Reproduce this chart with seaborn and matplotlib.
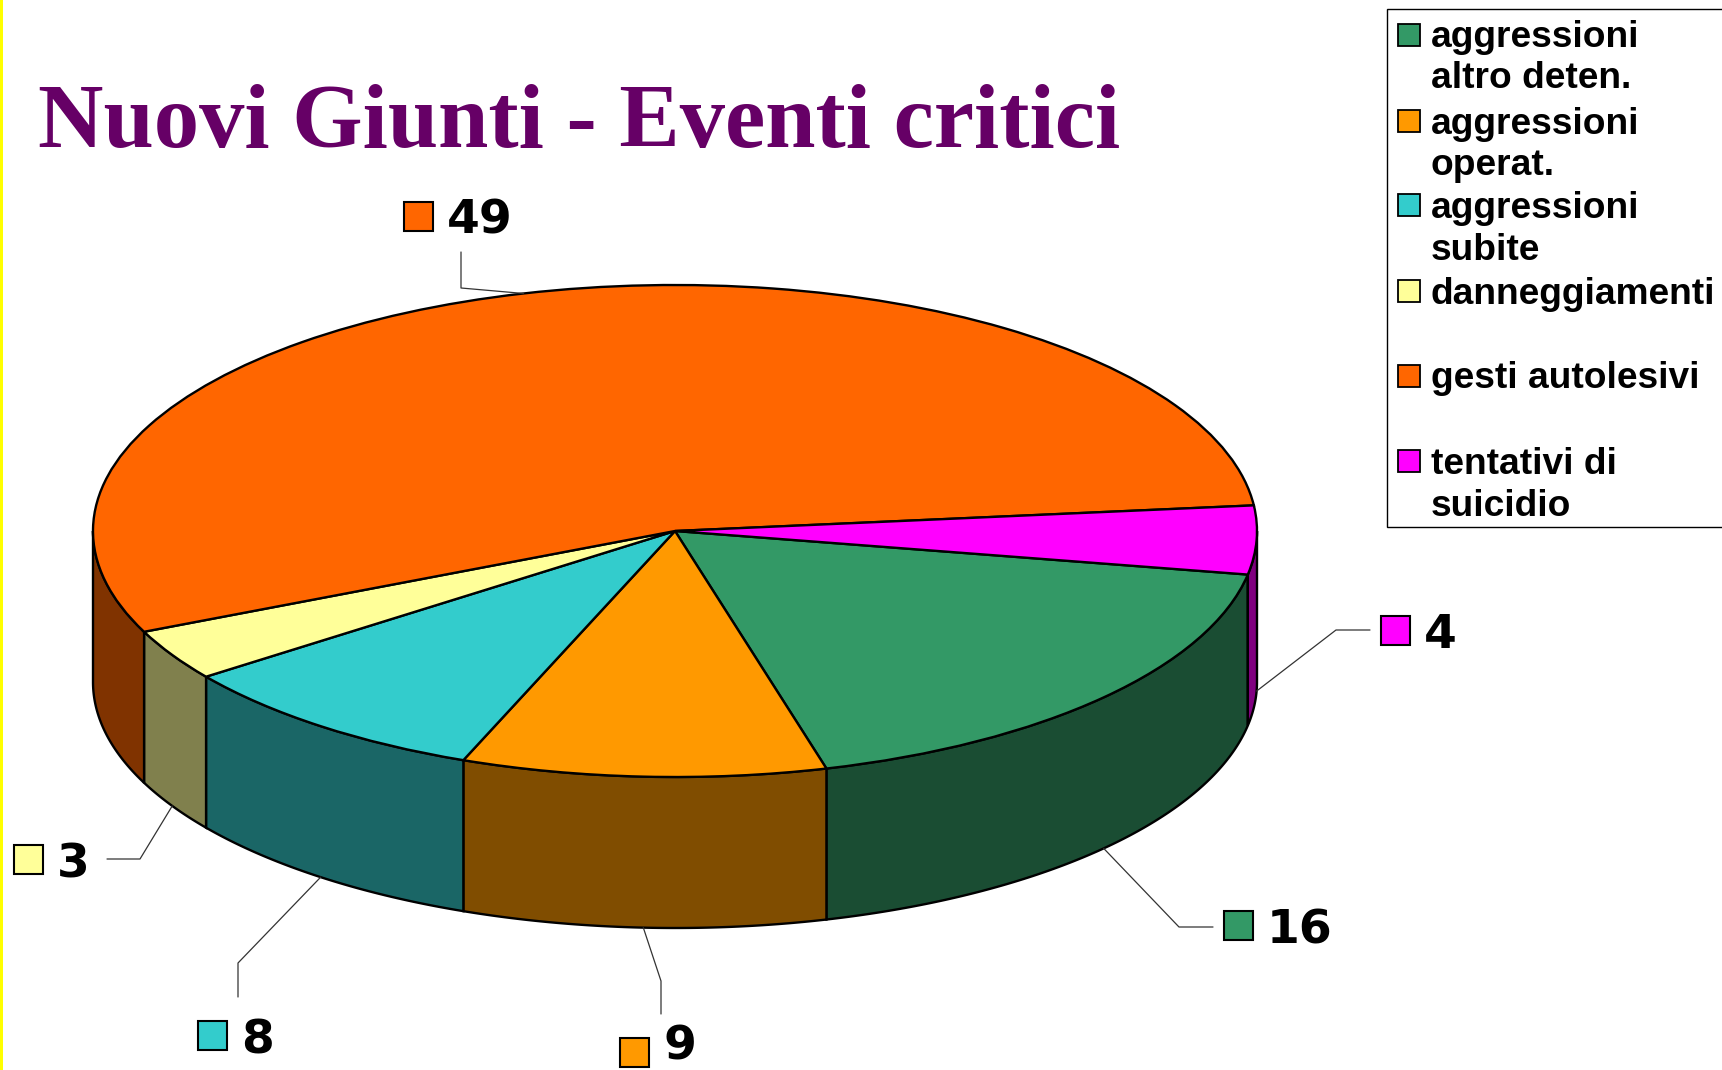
import numpy as np
import matplotlib
matplotlib.use("Agg")
import matplotlib.pyplot as plt
from matplotlib.patches import Rectangle
import seaborn as sns

# ---- data ----
categories = ["aggressioni\naltro deten.", "aggressioni\noperat.", "aggressioni\nsubite",
              "danneggiamenti", "gesti autolesivi", "tentativi di\nsuicidio"]
values = [16, 9, 8, 3, 49, 4]
title = "Nuovi Giunti - Eventi critici"

# ---- style / layout ----
hex_colors = ["#339966", "#FF9900", "#33CCCC", "#FFFF99", "#FF6600", "#FF00FF"]
W, H = 1722, 1070
CX, CY, RX, RY = 675, 531, 582, 246
DEPTH = 151 / RY
START = -10.2

# label layout (pixels): marker left/top, elbow, stub end
marker_pos = [(1224, 911), (620, 1038), (198, 1021), (14, 845), (404, 202), (1381, 616)]
elbow_pos = [(1179, 927), (661, 981), (238, 963), (140, 859), (461, 288), (1336, 630)]
stub_end = [(1213, 927), (661, 1014), (238, 997), (107, 859), (461, 252), (1370, 630)]
text_gap = 43
legend_marker_y = [35, 121, 205, 291, 375.5, 461]
legend_baseline = [47, 133.5, 218, 304, 388, 474.5]

sns.set_theme(style="white")
palette = sns.color_palette(hex_colors)
dark = [tuple(c * 0.5 for c in col) for col in palette]

fig = plt.figure(figsize=(W / 100, H / 100), dpi=100, facecolor="white")
ax = fig.add_axes([0, 0, 1, 1])

# top face
wedges, _ = ax.pie(values, colors=palette, startangle=START, counterclock=False, radius=1,
                   center=(0, 0), wedgeprops=dict(edgecolor="black", linewidth=1.7, zorder=3))
ax.set_aspect("auto")
ax.set_xlim(-CX / RX, (W - CX) / RX)
ax.set_ylim((CY - H) / RY, CY / RY)
ax.set_axis_off()

# side walls, from each wedge's own angles
for w, col in zip(wedges, dark):
    for k in (0, -360):
        lo = max(w.theta1, -180 + k)
        hi = min(w.theta2, 0 + k)
        if hi <= lo:
            continue
        t = np.radians(np.linspace(lo, hi, 120))
        xs = np.r_[np.cos(t), np.cos(t)[::-1]]
        ys = np.r_[np.sin(t), np.sin(t)[::-1] - DEPTH]
        ax.fill(xs, ys, facecolor=col, edgecolor="black", linewidth=1.7, zorder=2)

# overlay in pixels
ov = fig.add_axes([0, 0, 1, 1], facecolor="none")
ov.set_xlim(0, W)
ov.set_ylim(H, 0)
ov.set_axis_off()

ov.add_patch(Rectangle((0, 0), 3, H, facecolor="#FFFF00", edgecolor="none"))
ov.text(38, 147, title, family="Liberation Serif", weight="bold", fontsize=65.2,
        color="#660066", va="baseline", ha="left")

# data labels with leader lines
for w, v, col, mp, el, st in zip(wedges, values, palette, marker_pos, elbow_pos, stub_end):
    mid = np.radians((w.theta1 + w.theta2) / 2)
    on_front = np.sin(mid) < 0
    tip = (CX + RX * np.cos(mid), CY - RY * np.sin(mid) + (DEPTH * RY if on_front else 0))
    ov.plot([st[0], el[0], tip[0]], [st[1], el[1], tip[1]], color="#333333", lw=0.9, zorder=4)
    ov.add_patch(Rectangle(mp, 29, 29, facecolor=col, edgecolor="black", lw=1.5, zorder=5))
    base = min(mp[1] + 32, H - 10)
    ov.text(mp[0] + text_gap, base, str(v), family="DejaVu Sans", weight="bold",
            fontsize=34, color="black", va="baseline", ha="left")

# legend
ov.add_patch(Rectangle((1387, 9), 340, 518, facecolor="white", edgecolor="black", lw=1.0, zorder=5))
for lab, col, my, base in zip(categories, palette, legend_marker_y, legend_baseline):
    ov.add_patch(Rectangle((1398, my - 11), 22, 22, facecolor=col, edgecolor="black", lw=1.3, zorder=6))
    for i, line in enumerate(lab.split("\n")):
        ov.text(1431, base + i * 41.5, line, family="Liberation Sans", weight="bold",
                fontsize=26.7, color="black", va="baseline", ha="left", zorder=6)

fig.savefig("out.png", dpi=100)
